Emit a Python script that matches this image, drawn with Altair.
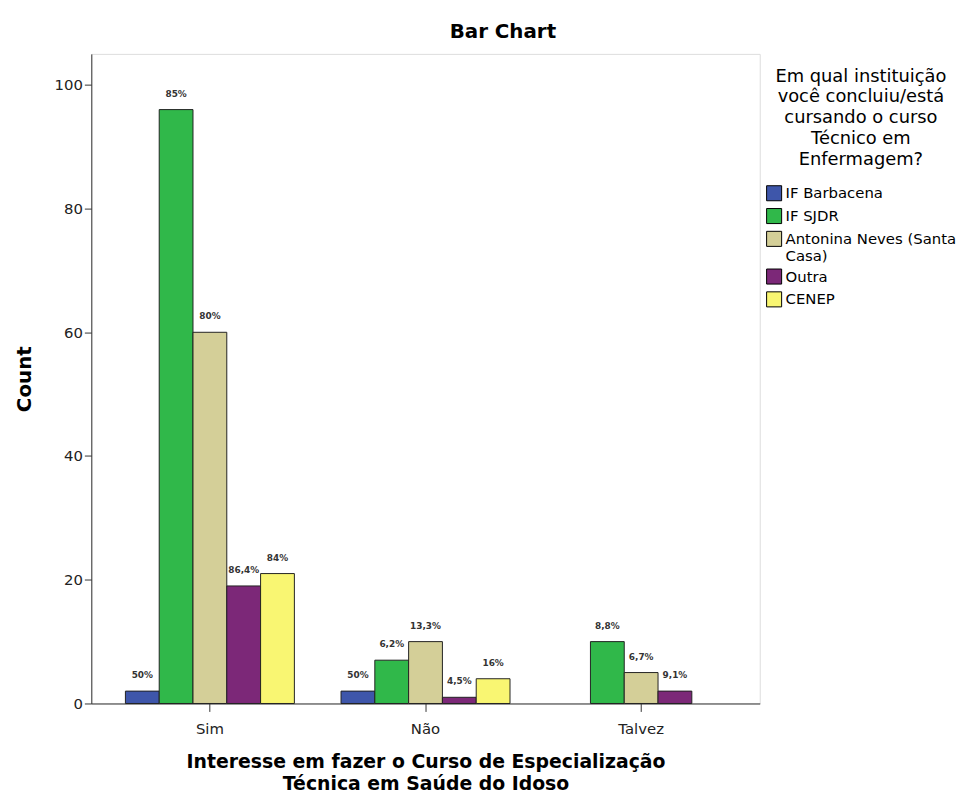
import altair as alt
import pandas as pd

categories = ["Sim", "Não", "Talvez"]
institutions = ["IF Barbacena", "IF SJDR", "Antonina Neves (Santa Casa)", "Outra", "CENEP"]
colors = ["#3e56aa", "#30b84a", "#d4cf98", "#7c2878", "#f9f672"]

count_barbacena = [2, 2, 0]
count_sjdr = [96, 7, 10]
count_antonina = [60, 10, 5]
count_outra = [19, 1, 2]
count_cenep = [21, 4, 0]

pct_barbacena = ["50%", "50%", ""]
pct_sjdr = ["85%", "6,2%", "8,8%"]
pct_antonina = ["80%", "13,3%", "6,7%"]
pct_outra = ["86,4%", "4,5%", "9,1%"]
pct_cenep = ["84%", "16%", ""]

counts = [count_barbacena, count_sjdr, count_antonina, count_outra, count_cenep]
pcts = [pct_barbacena, pct_sjdr, pct_antonina, pct_outra, pct_cenep]

rows = []
for ci, cat in enumerate(categories):
    present = [ii for ii in range(len(institutions)) if counts[ii][ci] > 0]
    shift = (len(institutions) - len(present)) / 2
    for k, ii in enumerate(present):
        rows.append({
            "cat": cat,
            "inst": institutions[ii],
            "count": counts[ii][ci],
            "pct": pcts[ii][ci],
            "slot": str(float(k + shift)),
        })
df = pd.DataFrame(rows)
slot_domain = [str(float(s)) for s in range(len(institutions))]

x = alt.X("cat:N", sort=categories,
          scale=alt.Scale(paddingInner=0, paddingOuter=0.05),
          axis=alt.Axis(title=["Interesse em fazer o Curso de Especialização",
                               "Técnica em Saúde do Idoso"],
                        labelAngle=0, labelFont="DejaVu Sans", labelFontSize=15,
                        labelColor="#222", labelPadding=10,
                        titleFont="DejaVu Sans", titleFontSize=19, titleFontWeight="bold",
                        titleColor="#000", titlePadding=17, titleLineHeight=22,
                        tickSize=8, tickColor="#333", domainColor="#333"))
xo = alt.XOffset("slot:O", scale=alt.Scale(domain=slot_domain, paddingInner=0, paddingOuter=0.69))
y = alt.Y("count:Q",
          scale=alt.Scale(domain=[0, 105], nice=False),
          axis=alt.Axis(title="Count", values=[0, 20, 40, 60, 80, 100], grid=False,
                        labelFont="DejaVu Sans", labelFontSize=15, labelColor="#222",
                        titleFont="DejaVu Sans", titleFontSize=20, titleFontWeight="bold",
                        titleColor="#000", titlePadding=20,
                        tickSize=7, tickColor="#333", domainColor="#333"))

bars = alt.Chart(df).mark_bar(stroke="#222", strokeWidth=1).encode(
    x=x, xOffset=xo, y=y,
    color=alt.Color("inst:N", sort=institutions,
                    scale=alt.Scale(domain=institutions, range=colors),
                    legend=alt.Legend(
                        title=["Em qual instituição", "você concluiu/está",
                               "cursando o curso", "Técnico em", "Enfermagem?"],
                        orient="none", legendX=680, legendY=14,
                        titleFont="DejaVu Sans", titleFontSize=18,
                        titleFontWeight="normal", titleColor="#000",
                        titleAlign="center", titleAnchor="middle",
                        titleLineHeight=21, titlePadding=16,
                        labelFont="DejaVu Sans", labelFontSize=15, labelColor="#000",
                        labelLimit=300,
                        labelExpr="datum.label == 'Antonina Neves (Santa Casa)' ? ['Antonina Neves (Santa', 'Casa)'] : datum.label",
                        symbolType="square", symbolSize=230, symbolStrokeColor="#000",
                        symbolStrokeWidth=1, symbolOpacity=1, rowPadding=2, labelOffset=3)),
)

labels = alt.Chart(df).mark_text(font="DejaVu Sans", fontSize=9, fontWeight="bold",
                                 color="#333", baseline="bottom", dy=-11).encode(
    x=x, xOffset=xo, y=y, text="pct:N")

chart = (bars + labels).properties(
    width=674, height=655,
    title=alt.TitleParams("Bar Chart", font="DejaVu Sans", fontSize=20, fontWeight="bold",
                          color="#000", anchor="middle", dx=78, offset=12),
    autosize=alt.AutoSizeParams(type="none"),
    padding={"left": 84, "top": 43, "right": 210, "bottom": 90},
).configure_view(fill="#efefef", stroke="#555", strokeWidth=2).configure(background="white")

chart.save("out.html", embed_options={"renderer": "svg", "actions": False})
